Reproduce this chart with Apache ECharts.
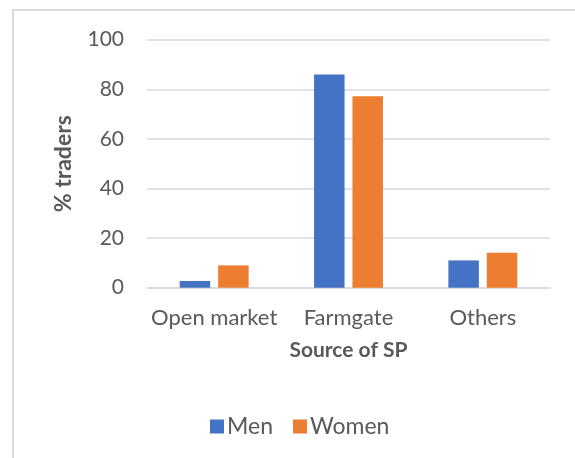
<!DOCTYPE html>
<html>
<head>
<meta charset="utf-8">
<script src="https://cdn.jsdelivr.net/npm/echarts@6/dist/echarts.min.js"></script>
<style>
html,body{margin:0;padding:0;background:#fff;}
#c{width:575px;height:458px;}
</style>
</head>
<body>
<div id="c"></div>
<script>
const categories = ['Open market', 'Farmgate', 'Others'];
const menValues = [2.7, 86.0, 11.0];
const womenValues = [9.0, 77.2, 14.1];
const yTicks = [0, 20, 40, 60, 80, 100];

const FONT = 'Lato';
const TXT = '#595959';
const chart = echarts.init(document.getElementById('c'), null, {renderer: 'canvas'});
chart.setOption({
  animation: false,
  backgroundColor: '#fff',
  graphic: [{
    type: 'polyline',
    shape: {points: [[13, 458], [13, 10], [575, 10]]},
    style: {stroke: '#d9d9d9', lineWidth: 2, fill: null},
    silent: true
  }],
  grid: {left: 147, right: 25, top: 39.7, bottom: 170.3, containLabel: false},
  legend: {
    data: ['Men', 'Women'],
    left: 210, top: 415, padding: 0,
    itemWidth: 14, itemHeight: 14, itemGap: 20,
    icon: 'rect',
    textStyle: {color: TXT, fontFamily: FONT, fontSize: 23, padding: [0, 0, 0, -2]}
  },
  xAxis: {
    type: 'category',
    data: categories,
    axisLine: {show: true, lineStyle: {color: '#d9d9d9', width: 1.5}},
    axisTick: {show: false},
    axisLabel: {color: TXT, fontFamily: FONT, fontSize: 22, margin: 19, interval: 0},
    name: 'Source of SP',
    nameLocation: 'middle',
    nameGap: 52,
    nameTextStyle: {color: TXT, fontFamily: FONT, fontSize: 21, fontWeight: 'bold'}
  },
  yAxis: {
    type: 'value',
    min: yTicks[0], max: yTicks[yTicks.length - 1], interval: 20,
    axisLine: {show: false},
    axisTick: {show: false},
    splitLine: {lineStyle: {color: '#d9d9d9', width: 1.5}},
    axisLabel: {color: TXT, fontFamily: FONT, fontSize: 21, margin: 23},
    name: '% traders',
    nameLocation: 'middle',
    nameGap: 72,
    nameTextStyle: {color: TXT, fontFamily: FONT, fontSize: 23, fontWeight: 'bold'}
  },
  series: [
    {name: 'Men', type: 'bar', data: menValues, barWidth: '22.7%', barGap: '26%',
     itemStyle: {color: '#4472C4'}},
    {name: 'Women', type: 'bar', data: womenValues, barWidth: '22.7%', barGap: '26%',
     itemStyle: {color: '#ED7D31'}}
  ]
});
</script>
</body>
</html>
